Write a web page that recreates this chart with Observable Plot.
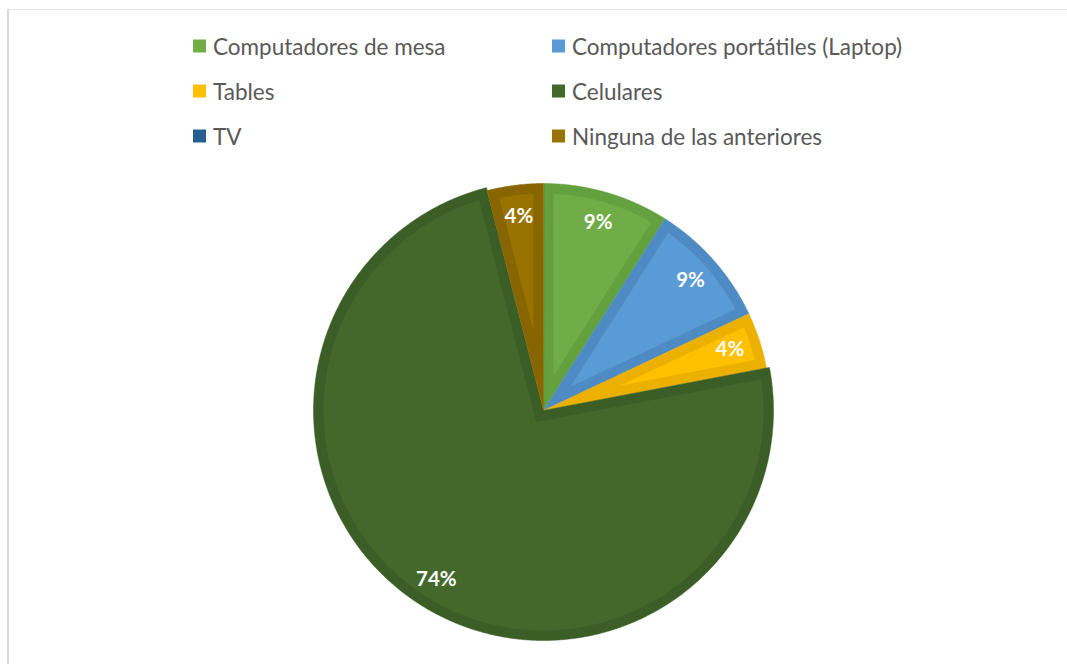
<!DOCTYPE html>
<html>
<head>
<meta charset="utf-8">
<script src="https://cdn.jsdelivr.net/npm/d3@7"></script>
<script src="https://cdn.jsdelivr.net/npm/@observablehq/plot@0.6"></script>
<style>
  body { margin: 0; background: #fff; overflow: hidden; width: 1067px; height: 664px; position: relative; font-family: Lato, "Open Sans", sans-serif; }
  #frame { position: absolute; left: 7px; top: 9px; width: 1100px; height: 700px; border-left: 2px solid #d9d9d9; border-top: 1px solid #e6e6e6; pointer-events: none; box-sizing: border-box; }
  #legend { position: relative; height: 165px; }
  .item { position: absolute; display: flex; align-items: center; gap: 7px; color: #595959; font-size: 22.5px; white-space: nowrap; transform: translateY(-50%); }
  .sw { width: 13px; height: 13px; flex: none; }
  #chart svg { display: block; }
</style>
</head>
<body>
<div id="legend"></div>
<div id="chart"></div>
<div id="frame"></div>
<script>
// ---- data ----
const categories = ["Computadores de mesa", "Computadores portátiles (Laptop)", "Tables", "Celulares", "TV", "Ninguna de las anteriores"];
const values = [9, 9, 4, 74, 0, 4];
const labels = ["9%", "9%", "4%", "74%", "0%", "4%"];

// ---- styles ----
const fillColors   = ["#70AD47", "#5B9BD5", "#FFC000", "#43682B", "#255E91", "#997300"];
const borderColors = ["#63A03E", "#4E8BC4", "#EBB000", "#3B5D26", "#1F5080", "#876600"];
const largerCategory = "Celulares";

// ---- legend (HTML, above the SVG) ----
const legend = document.getElementById("legend");
categories.forEach((c, i) => {
  const el = document.createElement("div");
  el.className = "item";
  el.style.left = (i % 2 === 0 ? 193 : 552) + "px";
  el.style.top = (46 + Math.floor(i / 2) * 45) + "px";
  el.innerHTML = `<span class="sw" style="background:${fillColors[i]}"></span><span>${c}</span>`;
  legend.appendChild(el);
});

// ---- pie geometry ----
const W = 1067, H = 499;
const cx = 543, cy = 245, R0 = 227, B = 10, labelR = 196;
const arcs = d3.pie().sort(null).value(d => d)(values);

const pt = (ox, oy, r, a) => [ox + r * Math.sin(a), oy - r * Math.cos(a)];

const polys = [];
const textRows = [];
arcs.forEach((a, i) => {
  if (values[i] <= 0) return;
  const a0 = a.startAngle, a1 = a.endAngle, m = (a0 + a1) / 2;
  const big = categories[i] === largerCategory;
  const R = big ? R0 + 3 : R0;
  const n = Math.max(8, Math.ceil((a1 - a0) / 0.005));
  // outer (border colour)
  polys.push({key: i + "o", x: cx, y: cy, c: borderColors[i], k: 0});
  for (let j = 0; j <= n; j++) {
    const [x, y] = pt(cx, cy, R, a0 + (a1 - a0) * j / n);
    polys.push({key: i + "o", x, y, c: borderColors[i], k: 0});
  }
  // inner (inset fill)
  const half = (a1 - a0) / 2;
  const d = B / Math.sin(half);
  const [ix, iy] = pt(cx, cy, d, m);
  const del = Math.asin(B / (R - B));
  polys.push({key: i + "i", x: ix, y: iy, c: fillColors[i], k: 1});
  for (let j = 0; j <= n; j++) {
    const [x, y] = pt(cx, cy, R - B, a0 + del + (a1 - a0 - 2 * del) * j / n);
    polys.push({key: i + "i", x, y, c: fillColors[i], k: 1});
  }
  const [lx, ly] = pt(cx, cy, big ? labelR + 4 : labelR, m);
  textRows.push({x: lx, y: ly, t: labels[i]});
});

const chart = Plot.plot({
  width: W,
  height: H,
  margin: 0,
  x: {domain: [0, W], range: [0, W], axis: null},
  y: {domain: [0, H], range: [0, H], axis: null},
  color: {type: "identity"},
  marks: [
    Plot.line(polys.filter(d => d.k === 0), {x: "x", y: "y", z: "key", fill: "c", stroke: "c", strokeWidth: 0.5, curve: "linear-closed"}),
    Plot.line(polys.filter(d => d.k === 1), {x: "x", y: "y", z: "key", fill: "c", stroke: "none", curve: "linear-closed"}),
    Plot.text(textRows, {x: "x", y: "y", text: "t", fill: "white", fontSize: 20.5, fontWeight: "bold", fontFamily: "Lato, 'Open Sans', sans-serif"})
  ]
});
document.getElementById("chart").appendChild(chart);
</script>
</body>
</html>
